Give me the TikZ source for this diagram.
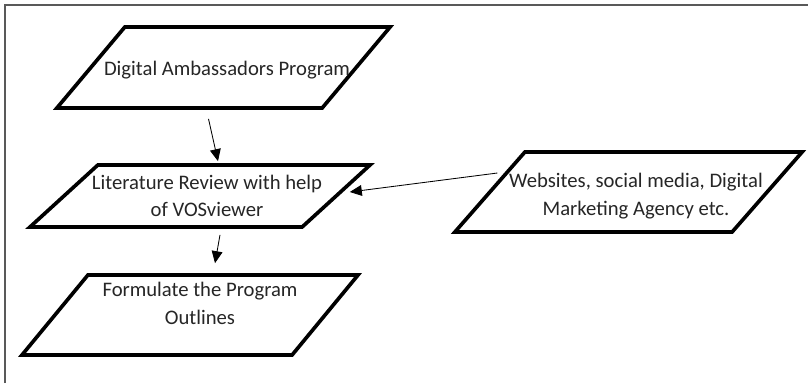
\documentclass[tikz,border=0pt]{standalone}
\usepackage{fontspec}
\setmainfont{Carlito}
\usetikzlibrary{shapes.geometric,arrows.meta,calc}

\tikzstyle{para}=[trapezium, trapezium stretches body=true, draw, line width=2.6pt, fill=white, inner xsep=0pt]
\tikzstyle{txt}=[font=\fontsize{14.7}{19.5}\selectfont, align=center, text=black!85]
\tikzstyle{flow}=[-{Triangle[length=0.3cm,width=0.27cm]}, line width=0.6pt]

\begin{document}
\begin{tikzpicture}[x=0.025cm,y=-0.025cm]
        \useasboundingbox (0,0) rectangle (808,383);
        \draw[line width=1.1pt, black!65] (5,383) -- (5,5) -- (808,5);

        \draw (223.5,67.5) node[para,trapezium left angle=50,trapezium right angle=130,minimum width=8.33cm,inner ysep=1.0125cm](dap){};
        \draw (200,196) node[para,trapezium left angle=42.4,trapezium right angle=137.6,minimum width=8.5cm,inner ysep=0.775cm](lit){};
        \draw (190,315) node[para,trapezium left angle=50.5,trapezium right angle=129.5,minimum width=8.4cm,inner ysep=1cm](outline){};
        \draw (628.5,192) node[para,trapezium left angle=48.8,trapezium right angle=131.2,minimum width=8.68cm,inner ysep=1cm](web){};
        %
        \draw (227,70) node[txt](dap-t){Digital Ambassadors Program};
        \draw (207,196) node[txt](lit-t){Literature Review with help\\of VOSviewer};
        \draw (200,303.5) node[txt](outline-t){Formulate the Program\\Outlines};
        \draw (636,196) node[txt](web-t){Websites, social media, Digital\\Marketing Agency etc.};
        %
        \draw[flow] ($(dap.south)+(-15,9)$) -- ($(lit.north)+(18,-2)$);
        \draw[flow] ($(lit.south)+(20,6)$) -- ($(outline.north)+(25,-10)$);
        \draw[flow] ($(web.west)+(10,-19)$) -- ($(lit.east)+(11,-4)$);
\end{tikzpicture}
\end{document}
